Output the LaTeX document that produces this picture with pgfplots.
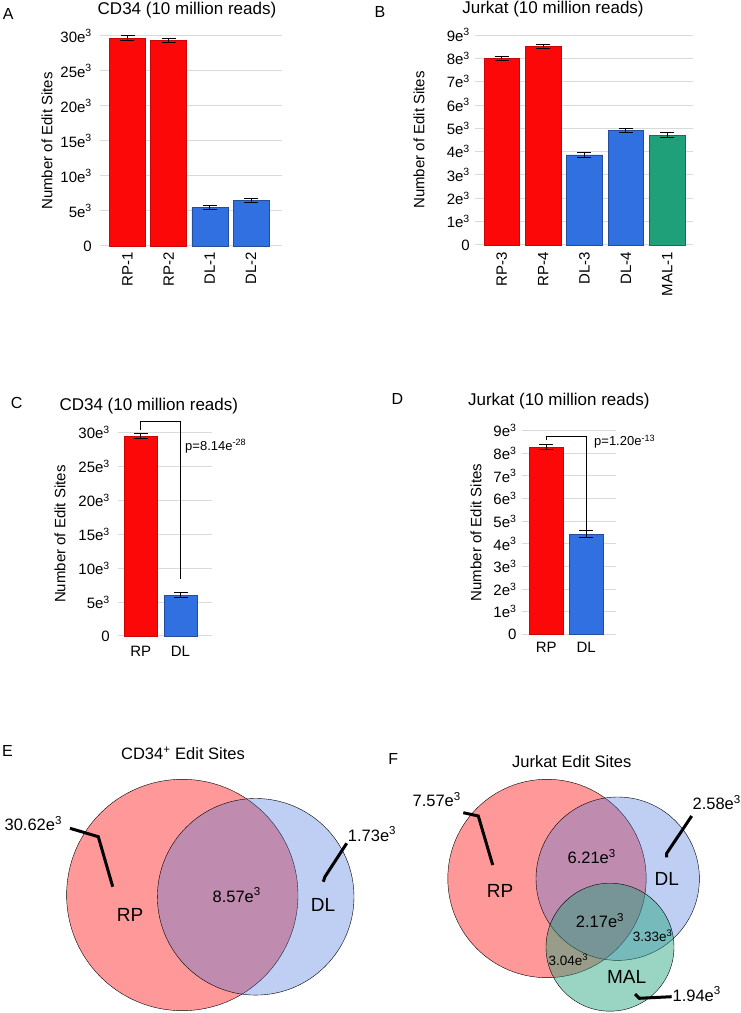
\documentclass[border=0pt]{standalone}
\usepackage{pgfplots}
\pgfplotsset{compat=1.18}
\usepackage{fontspec}
\setmainfont{Liberation Sans}
\definecolor{barred}{RGB}{252,8,8}
\definecolor{barblue}{RGB}{48,112,224}
\definecolor{bargreen}{RGB}{32,160,120}
\definecolor{gridgray}{RGB}{218,218,218}
\definecolor{vred}{RGB}{255,0,0}
\definecolor{vblue}{RGB}{60,110,220}
\definecolor{vgreen}{RGB}{32,160,120}
\newcommand{\fs}[1]{\fontsize{#1}{#1}\selectfont}
\newcommand{\sx}{e\textsuperscript{3}}
\pgfplotsset{
  barpanel/.style={
    scale only axis, anchor=south west,
    axis line style={draw=none},
    major tick length=0pt,
    ymin=0, clip=false, scaled y ticks=false,
    ymajorgrids, grid style={gridgray, line width=1pt},
    tick label style={font=\fs{15}},
    ylabel={Number of Edit Sites},
    ylabel style={font=\fs{15}},
  },
  mybar/.style={ybar, bar shift=0pt, bar width=#1, line width=0.5pt,
    error bars/y dir=both, error bars/y explicit,
    error bars/error bar style={black, line width=1pt},
    error bars/error mark options={black, line width=1pt, mark size=7pt, rotate=90}},
  vennaxis/.style={scale only axis, at={(0pt,0pt)}, anchor=south west, width=741pt, height=1013pt,
    xmin=0, xmax=741, ymin=0, ymax=1013, hide axis, clip=false},
}
\begin{document}
\begin{tikzpicture}
\useasboundingbox (0pt,0pt) rectangle (741pt,1013pt);
% ---------------- A ----------------
\begin{axis}[barpanel, at={(100pt,767pt)}, width=182pt, height=210pt,
  xmin=-0.668, xmax=3.753, ymax=30000,
  ytick={0,5000,10000,15000,20000,25000,30000},
  yticklabels={0,5\sx,10\sx,15\sx,20\sx,25\sx,30\sx},
  xtick={0,1,2,3}, xticklabels={RP-1,RP-2,DL-1,DL-2},
  xticklabel style={yshift=-6pt, rotate=90, anchor=east, inner sep=0pt},
  yticklabel style={anchor=east, inner sep=0pt, xshift=-8pt},
  ylabel style={at={(axis description cs:-0.291,0.5)}, anchor=center}]
\addplot[mybar=0.874, fill=barred, draw=barred!80!black] coordinates {(0,29700) +- (0,330) (1,29400) +- (0,300)};
\addplot[mybar=0.874, fill=barblue, draw=barblue!70!black] coordinates {(2,5530) +- (0,300) (3,6530) +- (0,300)};
\end{axis}
% ---------------- B ----------------
\begin{axis}[barpanel, at={(475pt,768pt)}, width=218pt, height=210pt,
  xmin=-0.648, xmax=4.624, ymax=9000,
  ytick={0,1000,...,9000},
  yticklabels={0,1\sx,2\sx,3\sx,4\sx,5\sx,6\sx,7\sx,8\sx,9\sx},
  xtick={0,1,2,3,4}, xticklabels={RP-3,RP-4,DL-3,DL-4,MAL-1},
  xticklabel style={yshift=-7pt, rotate=90, anchor=east, inner sep=0pt},
  yticklabel style={anchor=east, inner sep=0pt, xshift=-5pt},
  ylabel style={at={(axis description cs:-0.257,0.5)}, anchor=center}]
\addplot[mybar=0.86, fill=barred, draw=barred!80!black] coordinates {(0,8000) +- (0,100) (1,8510) +- (0,100)};
\addplot[mybar=0.86, fill=barblue, draw=barblue!70!black] coordinates {(2,3860) +- (0,100) (3,4910) +- (0,100)};
\addplot[mybar=0.86, fill=bargreen, draw=bargreen!70!black] coordinates {(4,4710) +- (0,100)};
\end{axis}
% ---------------- C ----------------
\begin{axis}[barpanel, at={(118pt,377pt)}, width=94pt, height=203.7pt,
  xmin=-0.570, xmax=1.791, ymax=30000,
  ytick={0,5000,10000,15000,20000,25000,30000},
  yticklabels={0,5\sx,10\sx,15\sx,20\sx,25\sx,30\sx},
  xtick={0,1}, xticklabels={RP,DL},
  xticklabel style={anchor=center, inner sep=0pt, yshift=-15.3pt},
  yticklabel style={anchor=east, inner sep=0pt, xshift=-8pt},
  ylabel style={at={(axis description cs:-0.617,0.5)}, anchor=center}]
\addplot[mybar=0.84, fill=barred, draw=barred!80!black] coordinates {(0,29450) +- (0,340)};
\addplot[mybar=0.84, fill=barblue, draw=barblue!70!black] coordinates {(1,6040) +- (0,340)};
\addplot[black, line width=0.7pt, mark=none, forget plot] coordinates {(0,30340) (0,31560) (1,31560) (1,8390)};
\node[anchor=west, inner sep=0pt, font=\fs{13}] at (axis cs:1.113,27980) {p=8.14e\textsuperscript{-28}};
\end{axis}
% ---------------- D ----------------
\begin{axis}[barpanel, at={(521.7pt,378.7pt)}, width=94.3pt, height=203.6pt,
  xmin=-0.617, xmax=1.747, ymax=9000,
  ytick={0,1000,...,9000},
  yticklabels={0,1\sx,2\sx,3\sx,4\sx,5\sx,6\sx,7\sx,8\sx,9\sx},
  xtick={0,1}, xticklabels={RP,DL},
  xticklabel style={anchor=center, inner sep=0pt, yshift=-12.7pt},
  yticklabel style={anchor=east, inner sep=0pt, xshift=-5pt},
  ylabel style={at={(axis description cs:-0.485,0.5)}, anchor=center}]
\addplot[mybar=0.857, fill=barred, draw=barred!80!black] coordinates {(0,8280) +- (0,100)};
\addplot[mybar=0.857, fill=barblue, draw=barblue!70!black] coordinates {(1,4430) +- (0,150)};
\addplot[black, line width=0.7pt, mark=none, forget plot] coordinates {(0,8590) (0,8760) (1,8760) (1,4580)};
\node[anchor=west, inner sep=0pt, font=\fs{13}] at (axis cs:1.195,8510) {p=1.20e\textsuperscript{-13}};
\end{axis}
% ---------------- Venn E, F: circles ----------------
\begin{axis}[vennaxis]
\addplot[only marks, mark=*, mark size=115.7pt, mark options={draw=none, fill=vred, fill opacity=0.4}] coordinates {(182.3,118)};
\addplot[only marks, mark=*, mark size=98.3pt, mark options={draw=none, fill=vblue, fill opacity=0.33}] coordinates {(255.7,116.2)};
\addplot[only marks, mark=*, mark size=99.2pt, mark options={draw=none, fill=vred, fill opacity=0.4}] coordinates {(547,134.5)};
\addplot[only marks, mark=*, mark size=81.7pt, mark options={draw=none, fill=vblue, fill opacity=0.33}] coordinates {(617.7,134.3)};
\addplot[only marks, mark=*, mark size=64pt, mark options={draw=none, fill=vgreen, fill opacity=0.45}] coordinates {(610,65.8)};
\end{axis}
% ---------------- Venn leaders (on top) ----------------
\begin{axis}[vennaxis]
\addplot[black, line width=3pt, mark=none] coordinates {(70,184.7) (98.3,176.3) (112.7,126.3)};
\addplot[black, line width=3pt, mark=none] coordinates {(346.7,169.7) (325,136.3) (323.3,131.3)};
\addplot[black, line width=3pt, mark=none] coordinates {(463.3,200.3) (478.3,197) (492.7,148)};
\addplot[black, line width=3pt, mark=none] coordinates {(691.7,197) (666.7,159.7) (666.7,155.7)};
\addplot[black, line width=3pt, mark=none] coordinates {(671.7,16.3) (639.3,14.7) (635,19)};
\end{axis}
% Venn labels (1pt = 1 axis unit)
\node[font=\fs{16.5}] at (33.3pt,189.7pt) {30.62\sx};
\node[font=\fs{16.5}] at (372pt,179pt) {1.73\sx};
\node[font=\fs{19}] at (130pt,98pt) {RP};
\node[font=\fs{16.5}] at (236.7pt,118pt) {8.57\sx};
\node[font=\fs{19}] at (323pt,108pt) {DL};
\node[font=\fs{16.5}] at (436.7pt,213.7pt) {7.57\sx};
\node[font=\fs{16.5}] at (716.7pt,210.3pt) {2.58\sx};
\node[font=\fs{19}] at (500pt,122.3pt) {RP};
\node[font=\fs{16.5}] at (591.7pt,156.3pt) {6.21\sx};
\node[font=\fs{19}] at (666.7pt,133.7pt) {DL};
\node[font=\fs{16.5}] at (600pt,92.3pt) {2.17\sx};
\node[font=\fs{13.5}] at (652.7pt,77pt) {3.33\sx};
\node[font=\fs{13.5}] at (568.3pt,53pt) {3.04\sx};
\node[font=\fs{19}] at (626.7pt,35.7pt) {MAL};
\node[font=\fs{16.5}] at (696.7pt,19pt) {1.94\sx};
% titles and letters
\node[anchor=base, font=\fs{17}] at (187pt,998pt) {CD34 (10 million reads)};
\node[anchor=base, font=\fs{17}] at (553pt,999pt) {Jurkat (10 million reads)};
\node[anchor=base, font=\fs{17}] at (148.8pt,602.3pt) {CD34 (10 million reads)};
\node[anchor=base, font=\fs{17}] at (558.8pt,607pt) {Jurkat (10 million reads)};
\node[anchor=base, font=\fs{16.5}] at (183pt,253.7pt) {CD34\textsuperscript{+} Edit Sites};
\node[anchor=base, font=\fs{16.5}] at (571.7pt,245.3pt) {Jurkat Edit Sites};
\node[anchor=base, font=\fs{16}] at (8.3pt,993.7pt) {A};
\node[anchor=base, font=\fs{16}] at (380pt,995.7pt) {B};
\node[anchor=base, font=\fs{16}] at (16.7pt,604.3pt) {C};
\node[anchor=base, font=\fs{16}] at (397.3pt,608pt) {D};
\node[anchor=base, font=\fs{16}] at (7.5pt,256.3pt) {E};
\node[anchor=base, font=\fs{16}] at (393.3pt,248pt) {F};
\end{tikzpicture}
\end{document}
